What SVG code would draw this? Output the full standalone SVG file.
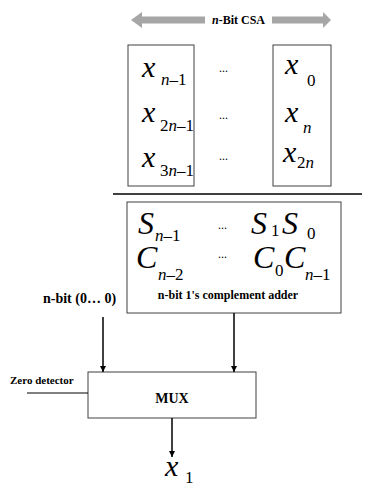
<svg xmlns="http://www.w3.org/2000/svg" width="366" height="488" viewBox="0 0 366 488">
<style>
text{font-family:"Liberation Serif","Times New Roman","DejaVu Serif",serif;fill:#000}
.box{fill:#fff;stroke:#404040;stroke-width:1}
.v{font-style:italic;font-size:30px}
.V{font-style:italic;font-size:32px}
.s{font-style:normal;font-size:17px}
.si{font-style:italic}
.d{font-size:12px}
.b{font-weight:bold}
.c{stroke:#000;stroke-width:1.5;fill:none}
</style>
<defs>
<marker id="ah" viewBox="0 0 10 10" refX="10" refY="5" markerWidth="6" markerHeight="7" markerUnits="userSpaceOnUse" orient="auto">
<path d="M0,0 L10,5 L0,10 z" fill="#000"/>
</marker>
</defs>
<g id="csa-label">
<polygon points="131,20 142,12 142,16.5 205,16.5 205,23.5 142,23.5 142,28" fill="#a6a6a6"/>
<polygon points="331,20 323,12 323,16.5 272,16.5 272,23.5 323,23.5 323,28" fill="#a6a6a6"/>
<text x="212" y="24" class="b" font-size="12"><tspan font-style="italic">n</tspan>-Bit CSA</text>
</g>
<g id="left-col">
<rect class="box" x="128" y="45" width="66" height="141"/>
<text class="v" x="142" y="77">x<tspan class="s" x="161" y="85"><tspan class="si">n</tspan>–1</tspan></text>
<text class="v" x="142" y="122">x<tspan class="s" x="160" y="131">2<tspan class="si">n</tspan>–1</tspan></text>
<text class="v" x="142" y="167">x<tspan class="s" x="160" y="176">3<tspan class="si">n</tspan>–1</tspan></text>
</g>
<g id="dots">
<text class="d" x="219" y="72">...</text>
<text class="d" x="219" y="119">...</text>
<text class="d" x="219" y="160">...</text>
</g>
<g id="right-col">
<rect class="box" x="273" y="45" width="58" height="141"/>
<text class="v" x="285" y="74">x<tspan class="s" x="307" y="86">0</tspan></text>
<text class="v" x="285" y="122">x<tspan class="s si" x="303" y="133">n</tspan></text>
<text class="v" x="283" y="162">x<tspan class="s" x="297" y="168">2<tspan class="si">n</tspan></tspan></text>
</g>
<g id="divider">
<line x1="113" y1="194" x2="362" y2="194" stroke="#404040" stroke-width="2"/>
</g>
<g id="adder">
<rect class="box" x="127" y="202" width="214" height="111"/>
<text class="V" x="138" y="234">S<tspan class="s" x="155" y="241"><tspan class="si">n</tspan>–1</tspan></text>
<text class="d" x="218" y="229">...</text>
<text class="V" x="251" y="234">S<tspan class="s" x="271" y="236">1</tspan></text>
<text class="V" x="282" y="234">S<tspan class="s" x="307" y="239">0</tspan></text>
<text class="V" x="136" y="268">C<tspan class="s" x="158" y="280"><tspan class="si">n</tspan>–2</tspan></text>
<text class="d" x="218" y="258">...</text>
<text class="V" x="253" y="268">C<tspan class="s" x="275" y="276">0</tspan></text>
<text class="V" x="284" y="268">C<tspan class="s" x="305" y="280"><tspan class="si">n</tspan>–1</tspan></text>
<text class="b" x="228" y="299" font-size="12" text-anchor="middle">n-bit 1's complement adder</text>
</g>
<g id="zero-input">
<text class="b" x="43" y="303" font-size="14">n-bit (0… 0)</text>
</g>
<g id="zero-detector">
<text class="b" x="10" y="384" font-size="11">Zero detector</text>
</g>
<g id="mux">
<rect class="box" x="88" y="372" width="168" height="46"/>
<text class="b" x="172" y="403" font-size="14" text-anchor="middle">MUX</text>
</g>
<g id="output">
<text class="v" x="165" y="476" font-size="28">x<tspan class="s" x="185" y="483" font-size="16">1</tspan></text>
</g>
<g id="connectors">
<line class="c" x1="103" y1="317" x2="103" y2="372" marker-end="url(#ah)"/>
<line class="c" x1="234" y1="313" x2="234" y2="372" marker-end="url(#ah)"/>
<line class="c" x1="172" y1="418" x2="172" y2="457" marker-end="url(#ah)"/>
<line x1="27" y1="393" x2="88" y2="393" stroke="#000" stroke-width="1"/>
</g>
</svg>
